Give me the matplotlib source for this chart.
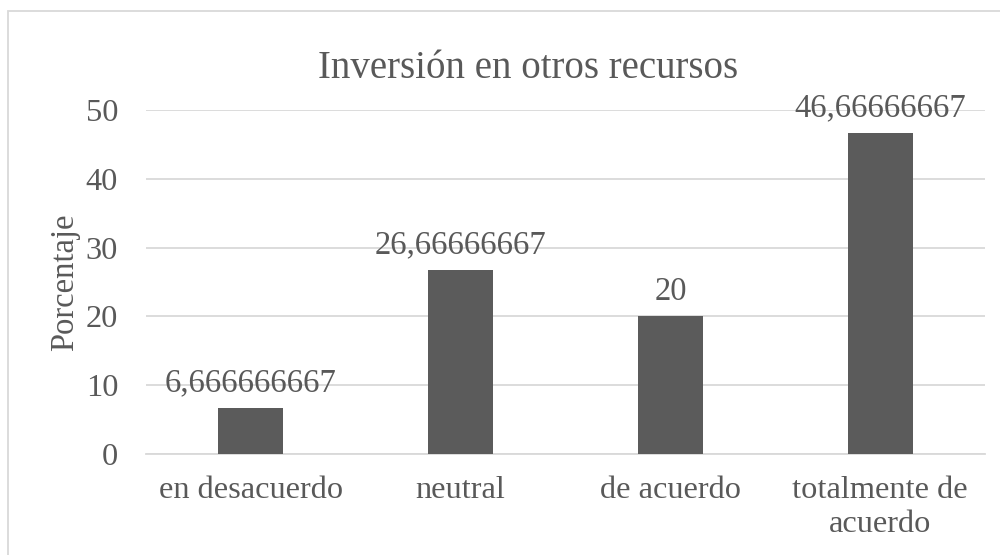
import matplotlib
matplotlib.use("Agg")
import matplotlib.pyplot as plt
from matplotlib.patches import Rectangle

# datos del grafico
categorias = ["en desacuerdo", "neutral", "de acuerdo", "totalmente de\nacuerdo"]
porcentajes = [6.666666667, 26.66666667, 20, 46.66666667]
ticks_y = [0, 10, 20, 30, 40, 50]

gris_texto = "#595959"
gris_barra = "#5b5b5b"
gris_linea = "#d9d9d9"

plt.rcParams["font.family"] = ["Liberation Serif", "DejaVu Serif"]

fig = plt.figure(figsize=(10, 5.55), dpi=100)
ax = fig.add_axes([0.146, 0.182, 0.839, 0.620])

x = list(range(len(categorias)))
barras = ax.bar(x, porcentajes, width=0.31, color=gris_barra, zorder=3)

# etiquetas de datos con coma decimal
for xi, v in zip(x, porcentajes):
    texto = "{:.10g}".format(v).replace(".", ",")
    ax.annotate(texto, (xi, v), xytext=(0, 7), textcoords="offset points",
                ha="center", va="bottom", fontsize=23.5, color=gris_texto, zorder=4)

ax.set_xlim(-0.5, len(categorias) - 0.5)
ax.set_ylim(0, 50)
ax.set_yticks(ticks_y)
ax.set_xticks(x)
ax.set_xticklabels(categorias, linespacing=1.2)
ax.grid(axis="y", color=gris_linea, linewidth=1.3, zorder=0)
ax.tick_params(axis="both", length=0, labelsize=23.3, colors=gris_texto)
ax.tick_params(axis="x", pad=16)
ax.tick_params(axis="y", pad=20)
for s in ["top", "right", "left"]:
    ax.spines[s].set_visible(False)
ax.spines["bottom"].set_color(gris_linea)
ax.spines["bottom"].set_linewidth(1.3)

ax.set_ylabel("Porcentaje", fontsize=23.5, color=gris_texto, labelpad=4)
fig.text(0.528, 0.877, "Inversión en otros recursos", ha="center", va="center",
         fontsize=28, color=gris_texto)

# borde del area del grafico
fig.patches.append(Rectangle((0.008, -0.01), 1.1, 0.990, transform=fig.transFigure,
                             fill=False, edgecolor=gris_linea, linewidth=1.3))

fig.savefig("out.png", dpi=100)
